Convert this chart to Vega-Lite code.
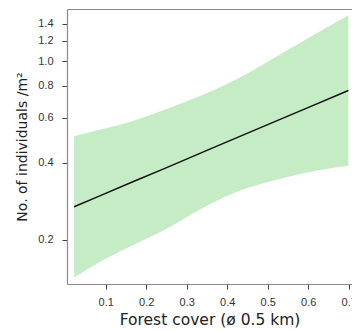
{
  "$schema": "https://vega.github.io/schema/vega-lite/v6.json",
  "autosize": "none",
  "width": 285,
  "height": 275,
  "padding": {"left": 67, "top": 9, "right": 0, "bottom": 46},
  "background": "white",
  "config": {
    "view": {"stroke": null},
    "axis": {"grid": false, "domainColor": "#8a8a8a", "domainWidth": 1.2, "tickColor": "#444", "tickSize": 5, "labelColor": "#333", "labelFont": "Liberation Sans", "labelFontSize": 11, "titleFont": "DejaVu Sans", "titleFontWeight": "normal", "titleColor": "#222", "titleFontSize": 15.5}
  },
  "data": {"values": [
    {"x": 0.022, "lo": 0.142, "hi": 0.508, "fit": 0.269},
    {"x": 0.084, "lo": 0.163, "hi": 0.538, "fit": 0.296},
    {"x": 0.167, "lo": 0.19, "hi": 0.583, "fit": 0.337},
    {"x": 0.249, "lo": 0.22, "hi": 0.648, "fit": 0.382},
    {"x": 0.357, "lo": 0.275, "hi": 0.758, "fit": 0.452},
    {"x": 0.427, "lo": 0.309, "hi": 0.855, "fit": 0.504},
    {"x": 0.51, "lo": 0.339, "hi": 1.018, "fit": 0.573},
    {"x": 0.592, "lo": 0.365, "hi": 1.21, "fit": 0.65},
    {"x": 0.699, "lo": 0.389, "hi": 1.512, "fit": 0.767}
  ]},
  "resolve": {"axis": {"x": "independent"}},
  "layer": [
    {
      "mark": {"type": "area", "color": "#c6ecc6", "interpolate": "monotone"},
      "encoding": {
        "x": {"field": "x", "type": "quantitative", "scale": {"domain": [0.0045, 0.708], "nice": false, "zero": false},
              "axis": {"orient": "bottom", "values": [0.1, 0.2, 0.3, 0.4, 0.5, 0.6, 0.7], "format": ".1f", "labelPadding": 7, "labelBound": false, "labelFlush": false, "labelOverlap": false, "title": "Forest cover (ø 0.5 km)", "titlePadding": 5}},
        "y": {"field": "lo", "type": "quantitative", "scale": {"type": "log", "domain": [0.134, 1.6], "nice": false, "zero": false},
              "axis": {"orient": "left", "values": [0.2, 0.4, 0.6, 0.8, 1.0, 1.2, 1.4], "format": ".1f", "labelPadding": 9, "labelOverlap": false, "title": "No. of individuals /m²", "titleFontSize": 14, "titlePadding": 8}},
        "y2": {"field": "hi"}
      }
    },
    {
      "mark": {"type": "line", "color": "#111", "strokeWidth": 1.5},
      "encoding": {
        "x": {"field": "x", "type": "quantitative", "axis": {"orient": "top", "labels": false, "ticks": false, "title": null}},
        "y": {"field": "fit", "type": "quantitative"}
      }
    }
  ]
}
